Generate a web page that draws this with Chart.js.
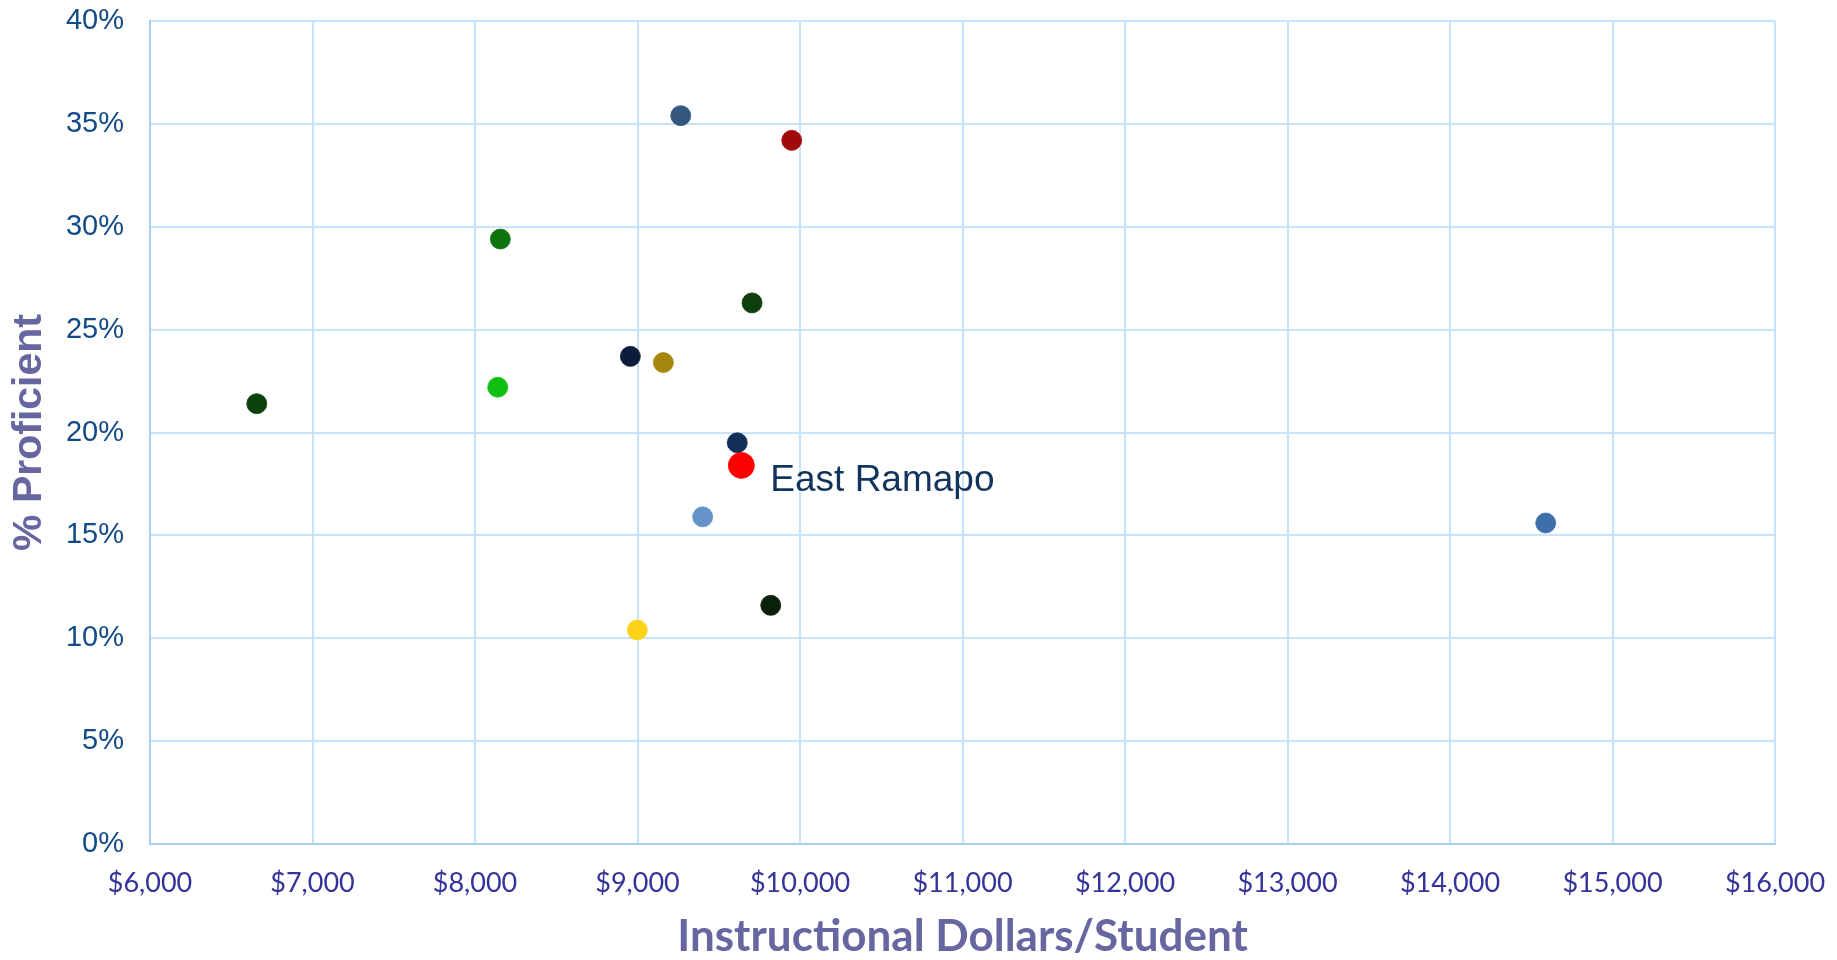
<!DOCTYPE html>
<html>
<head>
<meta charset="utf-8">
<script src="https://cdn.jsdelivr.net/npm/chart.js@4"></script>
<style>
        html, body { margin: 0; padding: 0; background: #ffffff; }
        #wrap { width: 1837px; height: 960px; }
</style>
</head>
<body>
<div id="wrap"><canvas id="chart_scatter"></canvas></div>
<script>
// districts
var district_names = ["", "", "", "", "", "", "", "", "", "", "", "", "", "East Ramapo"];
var dollars_per_student = [9266, 9949, 8156, 9705, 8956, 9159, 6657, 8140, 9614, 9401, 14589, 9820, 8999, 9639];
var pct_proficient = [35.4, 34.2, 29.4, 26.3, 23.7, 23.4, 21.4, 22.2, 19.5, 15.9, 15.6, 11.6, 10.4, 18.4];
var point_colors = ["#33577f", "#a00a0a", "#0d730d", "#0c3f0c", "#0b1d3a", "#a5870e", "#0b420b",
        "#10c010", "#112f57", "#6393c9", "#3d6fab", "#0b200b", "#ffd21a", "#ff0000"];
var point_sizes = [10, 10, 10, 10, 10, 10, 10, 10, 10, 10, 10, 10, 10, 13];

var x_ticks = [6000, 7000, 8000, 9000, 10000, 11000, 12000, 13000, 14000, 15000, 16000];
var y_ticks = [0, 5, 10, 15, 20, 25, 30, 35, 40];

var grid_color = "#c9e3fb";
var axis_color = "#a8d0f6";

// text next to the named point
var point_label_plugin = {
        id: "point_label",
        afterDatasetsDraw: function(chart) {
                var ctx = chart.ctx;
                var xs = chart.scales.x;
                var ys = chart.scales.y;
                ctx.save();
                ctx.font = "37px 'Liberation Sans', Arial, sans-serif";
                ctx.fillStyle = "#12345c";
                ctx.textAlign = "left";
                ctx.textBaseline = "alphabetic";
                for (let i = 0; i < district_names.length; i++) {
                        if (district_names[i] === "") continue;
                        var px = xs.getPixelForValue(dollars_per_student[i]);
                        var py = ys.getPixelForValue(pct_proficient[i]);
                        ctx.fillText(district_names[i], px + 29, py + 26);
                }
                ctx.restore();
        }
};

var points = dollars_per_student.map(function(d, i) {
        return { x: d, y: pct_proficient[i] };
});

new Chart("chart_scatter", {
        type: "scatter",
        data: {
                datasets: [{
                        data: points,
                        backgroundColor: point_colors,
                        borderColor: point_colors.map(function(c) { return c + "cc"; }),
                        borderWidth: 1,
                        pointRadius: point_sizes,
                        pointHoverRadius: point_sizes
                }]
        },
        options: {
                responsive: true,
                maintainAspectRatio: false,
                animation: false,
                layout: { padding: { top: 21, right: 62, left: 0, bottom: 0 } },
                plugins: {
                        legend: { display: false },
                        tooltip: { enabled: false }
                },
                scales: {
                        x: {
                                type: "linear",
                                min: x_ticks[0],
                                max: x_ticks[x_ticks.length - 1],
                                afterBuildTicks: function(scale) {
                                        scale.ticks = x_ticks.map(function(v) { return { value: v }; });
                                },
                                afterFit: function(scale) {
                                        scale.height = 116;
                                        scale.paddingLeft = 0;
                                        scale.paddingRight = 0;
                                },
                                grid: { color: grid_color, lineWidth: 2, drawTicks: false },
                                border: { color: axis_color, width: 2 },
                                ticks: {
                                        padding: 23,
                                        color: "#333399",
                                        font: { family: "Lato, 'Open Sans', sans-serif", size: 27 },
                                        maxRotation: 0,
                                        callback: function(v) { return "$" + v.toLocaleString("en-US"); }
                                },
                                title: {
                                        display: true,
                                        text: "Instructional Dollars/Student",
                                        color: "#6667a0",
                                        font: { family: "Lato, sans-serif", size: 44, weight: "bold", lineHeight: 1 },
                                        padding: { top: 0, bottom: 1 }
                                }
                        },
                        y: {
                                type: "linear",
                                min: y_ticks[0],
                                max: y_ticks[y_ticks.length - 1],
                                afterBuildTicks: function(scale) {
                                        scale.ticks = y_ticks.map(function(v) { return { value: v }; });
                                },
                                afterFit: function(scale) {
                                        scale.width = 150;
                                        scale.paddingTop = 0;
                                        scale.paddingBottom = 0;
                                },
                                grid: { color: grid_color, lineWidth: 2, drawTicks: false },
                                border: { color: axis_color, width: 2 },
                                ticks: {
                                        padding: 26,
                                        color: "#124a86",
                                        font: { family: "'Liberation Sans', Arial, sans-serif", size: 29 },
                                        callback: function(v) { return v + "%"; }
                                },
                                title: {
                                        display: true,
                                        text: "% Proficient",
                                        color: "#6667a0",
                                        font: { family: "'Liberation Sans', Arial, sans-serif", size: 41, weight: "bold", lineHeight: 1 },
                                        padding: { top: 9, bottom: 0 }
                                }
                        }
                }
        },
        plugins: [point_label_plugin]
});
</script>
</body>
</html>
